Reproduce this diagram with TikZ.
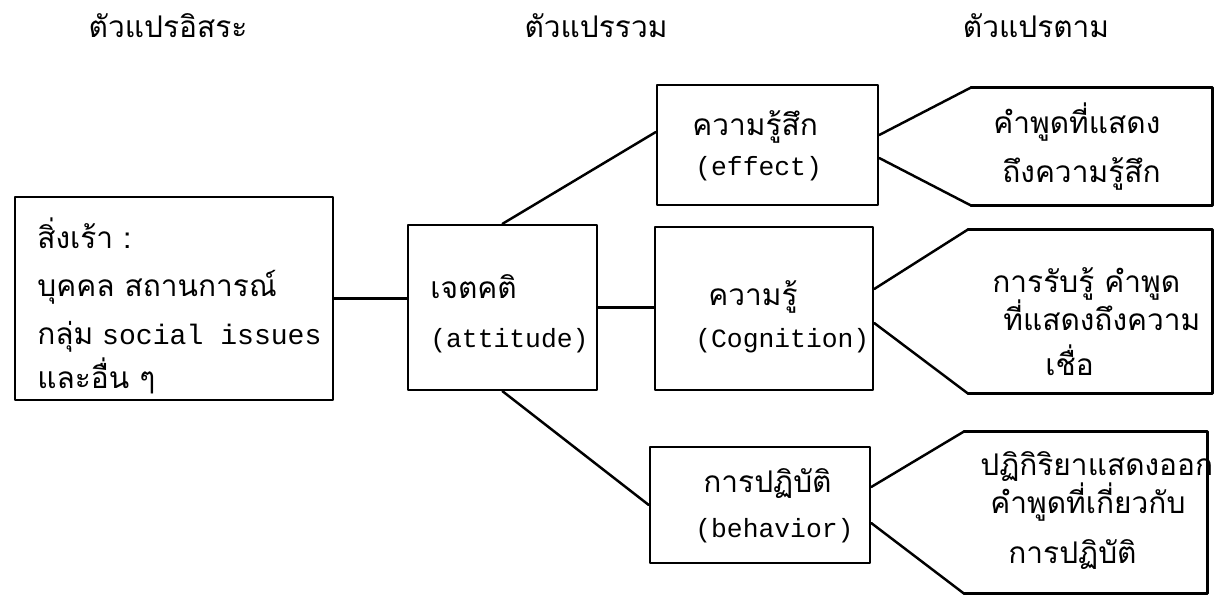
\documentclass[tikz,border=0pt]{standalone}
\usepackage{fontspec}
\newfontfamily\thaifont[Script=Thai]{Loma}
\setmonofont{Liberation Mono}
\begin{document}
\begin{tikzpicture}[x=0.02cm, y=-0.02cm, line join=round, line cap=round, font=\thaifont\fontsize{17}{20}\selectfont]
			\tikzset{box/.style={draw, line width=1.4pt, inner sep=0pt},
				tag/.style={inner sep=0pt},
				edge/.style={line width=1.4pt},
				txt/.style={anchor=base west, inner sep=0pt},
				lat/.style={anchor=base west, inner sep=0pt, font=\ttfamily\fontsize{15}{18}\selectfont}}
			\useasboundingbox (0,0) rectangle (1219,596);
			\node at (168,37) [anchor=base] (h1) {ตัวแปรอิสระ};
			\node at (596,37) [anchor=base] (h2) {ตัวแปรรวม};
			\node at (1036,37) [anchor=base] (h3) {ตัวแปรตาม};
			\node at (174,298.5) [box, minimum width=6.36cm, minimum height=4.06cm] (stim) {};
			\node at (502.5,307.5) [box, minimum width=3.78cm, minimum height=3.3cm] (att) {};
			\node at (767.5,145) [box, minimum width=4.42cm, minimum height=2.4cm] (eff) {};
			\node at (764,308.5) [box, minimum width=4.36cm, minimum height=3.26cm] (cog) {};
			\node at (760,505) [box, minimum width=4.4cm, minimum height=2.32cm] (beh) {};
			\node at (1091.5,146.5) [tag, minimum width=4.82cm, minimum height=2.34cm] (reff) {};
			\node at (1090,311.5) [tag, minimum width=4.88cm, minimum height=3.26cm] (rcog) {};
			\node at (1085.5,512.5) [tag, minimum width=4.86cm, minimum height=3.22cm] (rbeh) {};
			\foreach \n in {reff,rcog,rbeh}
			{\draw[edge] (\n.north west)--(\n.north east)--(\n.south east)--(\n.south west);}
			\draw[edge] (stim.east)--(stim.east -| att.west);
			\draw[edge] (att.east)--(att.east -| cog.west);
			\draw[edge] (att.north)--([yshift=0.26cm]eff.west);
			\draw[edge] (att.south)--(beh.west);
			\draw[edge] ([yshift=0.2cm]eff.east)--(reff.north west);
			\draw[edge] ([yshift=-0.26cm]eff.east)--(reff.south west);
			\draw[edge] ([yshift=0.39cm]cog.east)--(rcog.north west);
			\draw[edge] ([yshift=-0.29cm]cog.east)--(rcog.south west);
			\draw[edge] ([yshift=0.36cm]beh.east)--(rbeh.north west);
			\draw[edge] ([yshift=-0.36cm]beh.east)--(rbeh.south west);
			\node at (37,248) [txt] (s1) {สิ่งเร้า :};
			\node at (37,296) [txt] (s2) {บุคคล สถานการณ์};
			\node at (37,344) [txt] (s3) {กลุ่ม\hspace{5pt}{\ttfamily\fontsize{16}{20}\selectfont social issues}};
			\node at (37,388) [txt] (s4) {และอื่น ๆ};
			\node at (430,298) [txt] (a1) {เจตคติ};
			\node at (430,347) [lat] (a2) {(attitude)};
			\node at (692,135) [txt] (e1) {ความรู้สึก};
			\node at (695,175) [lat] (e2) {(effect)};
			\node at (708,305) [txt] (c1) {ความรู้};
			\node at (695,347) [lat] (c2) {(Cognition)};
			\node at (703,492) [txt] (b1) {การปฏิบัติ};
			\node at (695,537) [lat] (b2) {(behavior)};
			\node at (993,133) [txt] (re1) {คำพูดที่แสดง};
			\node at (1002,182) [txt] (re2) {ถึงความรู้สึก};
			\node at (992,292) [txt] (rc1) {การรับรู้ คำพูด};
			\node at (1003,330) [txt] (rc2) {ที่แสดงถึงความ};
			\node at (1045,375) [txt] (rc3) {เชื่อ};
			\node at (980,475) [txt] (rb1) {ปฏิกิริยาแสดงออก};
			\node at (990,513) [txt] (rb2) {คำพูดที่เกี่ยวกับ};
			\node at (1008,563) [txt] (rb3) {การปฏิบัติ};
	\end{tikzpicture}
\end{document}
